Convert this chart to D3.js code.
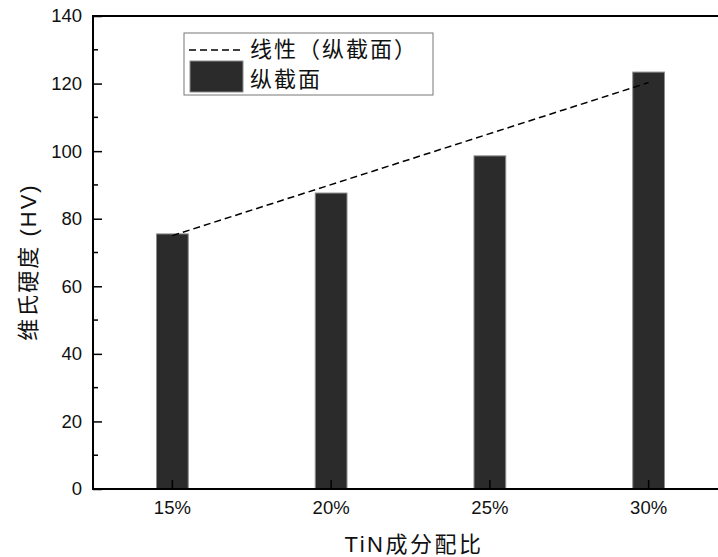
<!DOCTYPE html>
<html>
<head>
<meta charset="utf-8">
<script src="https://cdn.jsdelivr.net/npm/d3@7/dist/d3.min.js"></script>
<style>
  html, body { margin: 0; padding: 0; background: #fff; }
  svg { display: block; }
  .lat { font-family: "Liberation Sans", Arial, sans-serif; }
  .cjk { font-family: "Liberation Sans", "Noto Sans CJK SC", sans-serif; }
</style>
</head>
<body>
<svg id="chart" width="718" height="557"></svg>
<script>
// Vickers hardness of the longitudinal section for each TiN ratio
const categories = ["15%", "20%", "25%", "30%"];
const hardness = [75.5, 87.6, 98.6, 123.4];
// linear trend of the section hardness, at the first and last ratio
const trendEnds = [75.0, 120.3];
const yTicks = [0, 20, 40, 60, 80, 100, 120, 140];
const yMinorTicks = [10, 30, 50, 70, 90, 110, 130];
const seriesName = "纵截面";
const trendName = "线性（纵截面）";
const xTitle = "TiN成分配比";
const yTitle = "维氏硬度 (HV)";

const svg = d3.select("#chart");
const plotL = 93, plotR = 728, plotT = 16, plotB = 489;

const x = d3.scaleBand().domain(categories).range([plotL, plotR])
  .paddingInner(0.8).paddingOuter(0.4);
const y = d3.scaleLinear().domain([0, 140]).range([plotB, plotT]);
const cx = c => x(c) + x.bandwidth() / 2;

// bars
svg.append("g").selectAll("rect").data(hardness).join("rect")
  .attr("x", (d, i) => x(categories[i]))
  .attr("y", d => y(d))
  .attr("width", x.bandwidth())
  .attr("height", d => y(0) - y(d))
  .attr("fill", "#2b2b2b")
  .attr("stroke", "#8c8c8c")
  .attr("stroke-width", 1);

// dashed linear trend
const trendPts = [
  [cx(categories[0]), y(trendEnds[0])],
  [cx(categories[categories.length - 1]), y(trendEnds[1])]
];
svg.append("path")
  .attr("d", d3.line()(trendPts))
  .attr("fill", "none")
  .attr("stroke", "#000")
  .attr("stroke-width", 1.5)
  .attr("stroke-dasharray", "7,4");

// axes with inward ticks
const yAxis = d3.axisLeft(y).tickValues(yTicks).tickSize(-9).tickPadding(11)
  .tickFormat(d3.format("d"));
const gy = svg.append("g").attr("transform", `translate(${plotL},0)`).call(yAxis);
gy.select(".domain").remove();
gy.selectAll(".tick line").attr("stroke", "#000").attr("stroke-width", 1.5);
gy.selectAll(".tick text").attr("class", "lat").attr("font-size", 18.5).attr("fill", "#111");

svg.append("g").selectAll("line").data(yMinorTicks).join("line")
  .attr("x1", plotL).attr("x2", plotL + 5)
  .attr("y1", d => y(d)).attr("y2", d => y(d))
  .attr("stroke", "#000").attr("stroke-width", 1.5);

const xAxis = d3.axisBottom(x).tickSize(-9).tickPadding(12);
const gx = svg.append("g").attr("transform", `translate(0,${plotB})`).call(xAxis);
gx.select(".domain").remove();
gx.selectAll(".tick line").attr("stroke", "#000").attr("stroke-width", 1.5);
gx.selectAll(".tick text").attr("class", "lat").attr("font-size", 18.5).attr("fill", "#111");

// frame
svg.append("rect")
  .attr("x", plotL).attr("y", plotT)
  .attr("width", plotR - plotL).attr("height", plotB - plotT)
  .attr("fill", "none").attr("stroke", "#000").attr("stroke-width", 2);

// axis titles
svg.append("text").attr("class", "cjk")
  .attr("x", 414).attr("y", 552)
  .attr("text-anchor", "middle").attr("font-size", 22)
  .attr("letter-spacing", "2.5px").attr("fill", "#111")
  .text(xTitle);
svg.append("text").attr("class", "cjk")
  .attr("transform", "translate(28,262) rotate(-90)")
  .attr("text-anchor", "middle").attr("dy", "0.36em").attr("font-size", 22)
  .attr("letter-spacing", "2px").attr("fill", "#111")
  .text(yTitle);

// legend
const lg = svg.append("g");
lg.append("rect").attr("x", 184).attr("y", 33).attr("width", 249).attr("height", 62)
  .attr("fill", "#fff").attr("stroke", "#777").attr("stroke-width", 1);
lg.append("line").attr("x1", 189).attr("x2", 243).attr("y1", 50).attr("y2", 50)
  .attr("stroke", "#000").attr("stroke-width", 1.5).attr("stroke-dasharray", "7,4");
lg.append("text").attr("class", "cjk").attr("x", 250).attr("y", 57)
  .attr("font-size", 22).attr("letter-spacing", "2px").attr("fill", "#111").text(trendName);
lg.append("rect").attr("x", 190).attr("y", 61).attr("width", 53).attr("height", 31)
  .attr("fill", "#2b2b2b").attr("stroke", "#8c8c8c").attr("stroke-width", 1);
lg.append("text").attr("class", "cjk").attr("x", 250).attr("y", 87)
  .attr("font-size", 22).attr("letter-spacing", "2px").attr("fill", "#111").text(seriesName);
</script>
</body>
</html>
